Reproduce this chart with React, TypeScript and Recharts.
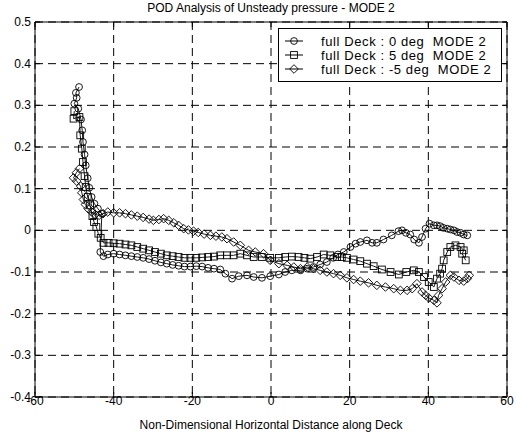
import React from 'react';
import { LineChart, Line, XAxis, YAxis, CartesianGrid, Legend } from 'recharts';

// [x, pressure mode value]
const DECK_0: [number, number][] = [
  [-48.8, 0.344], [-49.6, 0.33], [-49.4, 0.318], [-50.0, 0.304], [-49.0, 0.292], [-48.3, 0.266],
  [-48.0, 0.24], [-47.8, 0.212], [-47.4, 0.182], [-47.1, 0.156], [-46.6, 0.125], [-46.2, 0.102],
  [-45.6, 0.08], [-44.9, 0.064], [-44.0, 0.052], [-43.0, 0.04], [-43.4, -0.052], [-42.6, -0.062],
  [-41.5, -0.058], [-40.0, -0.056], [-38.5, -0.058], [-37.0, -0.06], [-35.5, -0.062], [-34.0, -0.064],
  [-32.5, -0.066], [-31.0, -0.069], [-29.5, -0.073], [-28.0, -0.077], [-26.5, -0.08], [-25.0, -0.083],
  [-23.5, -0.085], [-22.0, -0.087], [-20.5, -0.087], [-19.0, -0.086], [-17.5, -0.087], [-16.0, -0.09],
  [-14.5, -0.092], [-12.9, -0.094], [-11.6, -0.104], [-9.9, -0.116], [-8.2, -0.11], [-6.1, -0.108],
  [-4.4, -0.112], [-2.3, -0.114], [-0.2, -0.11], [2.0, -0.106], [3.6, -0.1], [5.3, -0.096],
  [7.5, -0.096], [9.2, -0.092], [10.8, -0.088], [12.5, -0.082], [14.2, -0.076], [15.8, -0.066],
  [17.0, -0.058], [18.5, -0.052], [20.2, -0.04], [21.5, -0.032], [22.7, -0.028], [24.4, -0.024],
  [25.7, -0.03], [26.9, -0.03], [28.6, -0.022], [30.7, -0.012], [32.4, -0.002], [33.3, 0.0],
  [34.3, -0.006], [35.4, -0.01], [36.4, -0.022], [37.6, -0.03], [38.4, -0.016], [39.3, 0.004],
  [40.3, 0.016], [41.4, 0.012], [42.2, 0.012], [43.0, 0.01], [43.8, 0.006], [44.8, 0.004],
  [45.6, 0.002], [46.5, 0.0], [47.3, -0.004], [48.2, -0.006], [49.0, -0.01], [49.9, -0.012],
];

const DECK_5: [number, number][] = [
  [-50.0, 0.286], [-50.2, 0.268], [-48.7, 0.272], [-48.5, 0.228], [-48.1, 0.196], [-47.8, 0.164],
  [-47.4, 0.13], [-47.1, 0.104], [-46.6, 0.08], [-46.0, 0.06], [-45.4, 0.034], [-45.0, 0.02],
  [-44.4, 0.008], [-43.9, -0.008], [-43.3, -0.018], [-42.6, -0.03], [-41.3, -0.03], [-40.0, -0.031],
  [-38.5, -0.032], [-37.0, -0.034], [-35.5, -0.036], [-34.0, -0.04], [-32.5, -0.044], [-31.0, -0.048],
  [-29.5, -0.052], [-28.0, -0.056], [-26.5, -0.06], [-25.0, -0.062], [-23.5, -0.064], [-22.0, -0.066],
  [-20.5, -0.066], [-19.0, -0.066], [-17.5, -0.065], [-16.0, -0.064], [-14.5, -0.063], [-12.9, -0.06],
  [-11.2, -0.06], [-9.5, -0.06], [-7.8, -0.056], [-6.1, -0.06], [-4.4, -0.064], [-2.3, -0.064],
  [-0.2, -0.066], [2.0, -0.066], [3.6, -0.064], [5.3, -0.063], [7.0, -0.064], [8.5, -0.066],
  [10.0, -0.068], [11.7, -0.064], [13.4, -0.058], [15.1, -0.06], [16.8, -0.064], [18.0, -0.064],
  [19.3, -0.066], [21.0, -0.07], [22.7, -0.074], [24.4, -0.08], [26.1, -0.086], [28.2, -0.094],
  [30.4, -0.1], [32.5, -0.106], [34.4, -0.1], [36.3, -0.096], [37.6, -0.1], [38.9, -0.112],
  [40.1, -0.124], [41.4, -0.136], [42.2, -0.116], [43.0, -0.104], [43.5, -0.092], [43.9, -0.072],
  [44.8, -0.052], [45.6, -0.04], [46.9, -0.036], [48.2, -0.04], [49.0, -0.048], [48.6, -0.056],
  [49.5, -0.072],
];

const DECK_M5: [number, number][] = [
  [-48.7, 0.148], [-49.5, 0.138], [-50.2, 0.126], [-49.4, 0.118], [-48.4, 0.106], [-48.1, 0.09],
  [-47.7, 0.074], [-47.2, 0.062], [-46.5, 0.052], [-45.6, 0.044], [-44.7, 0.038], [-43.7, 0.036],
  [-42.7, 0.04], [-41.5, 0.044], [-40.0, 0.042], [-38.5, 0.042], [-37.0, 0.04], [-35.5, 0.037],
  [-34.0, 0.034], [-32.5, 0.031], [-31.0, 0.027], [-29.9, 0.024], [-28.5, 0.026], [-27.3, 0.028],
  [-26.0, 0.024], [-24.7, 0.018], [-23.5, 0.012], [-22.2, 0.004], [-21.0, 0.001], [-19.7, -0.002],
  [-18.5, -0.005], [-17.0, -0.009], [-15.4, -0.012], [-14.0, -0.014], [-12.5, -0.016], [-11.2, -0.02],
  [-9.5, -0.028], [-7.8, -0.036], [-5.7, -0.048], [-4.0, -0.052], [-1.9, -0.056], [-0.2, -0.072],
  [2.0, -0.08], [4.1, -0.084], [5.8, -0.088], [7.5, -0.092], [9.2, -0.088], [10.8, -0.092],
  [12.5, -0.096], [14.2, -0.1], [15.9, -0.104], [17.6, -0.108], [19.3, -0.114], [21.0, -0.118],
  [22.7, -0.122], [24.8, -0.126], [26.9, -0.132], [29.1, -0.136], [31.2, -0.14], [32.9, -0.144],
  [34.6, -0.144], [35.9, -0.14], [37.1, -0.128], [38.4, -0.148], [39.3, -0.156], [40.1, -0.162],
  [41.4, -0.168], [42.2, -0.174], [42.6, -0.156], [43.5, -0.14], [44.4, -0.124], [45.6, -0.108],
  [46.5, -0.112], [47.8, -0.12], [49.0, -0.122], [49.9, -0.116], [50.4, -0.108],
];

const X_TICKS = [-60, -40, -20, 0, 20, 40, 60];
const Y_TICKS = [-0.4, -0.3, -0.2, -0.1, 0, 0.1, 0.2, 0.3, 0.4, 0.5];
const SERIES_NAMES = ['full Deck : 0 deg  MODE 2', 'full Deck : 5 deg  MODE 2', 'full Deck : -5 deg  MODE 2'];

const FONT = '"Liberation Sans", Arial, sans-serif';

const toPoints = (arr: [number, number][]) => arr.map(([x, y]) => ({ x, y }));

const drawMarker = (shape: string, cx: number, cy: number, key?: any) => {
  if (shape === 'circle') {
    return <circle key={key} cx={cx} cy={cy} r={3.4} fill="none" stroke="#000" strokeWidth={0.9} />;
  }
  if (shape === 'square') {
    return <rect key={key} x={cx - 3.4} y={cy - 3.4} width={6.8} height={6.8} fill="none" stroke="#000" strokeWidth={0.9} />;
  }
  return (
    <polygon
      key={key}
      points={`${cx},${cy - 4.3} ${cx + 4.3},${cy} ${cx},${cy + 4.3} ${cx - 4.3},${cy}`}
      fill="none"
      stroke="#000"
      strokeWidth={0.9}
    />
  );
};

const dotFor = (shape: string) => (props: any) => {
  const { cx, cy, index } = props;
  if (cx == null || cy == null) return <g key={index} />;
  return drawMarker(shape, cx, cy, index);
};

const fmtY = (v: number) => String(Math.round(v * 10) / 10);

const BottomTick = (props: any) => {
  const { x, y, payload } = props;
  return (
    <g>
      <line x1={x} y1={y} x2={x} y2={y - 5} stroke="#000" />
      <text x={x} y={y + 8} textAnchor="middle" fontSize={12} fontFamily={FONT} fill="#000">
        {payload.value}
      </text>
    </g>
  );
};

const TopTick = (props: any) => {
  const { x, y } = props;
  return <line x1={x} y1={y} x2={x} y2={y + 5} stroke="#000" />;
};

const LeftTick = (props: any) => {
  const { x, y, payload } = props;
  return (
    <g>
      <line x1={x} y1={y} x2={x + 5} y2={y} stroke="#000" />
      <text x={x - 4} y={y + 4} textAnchor="end" fontSize={12} fontFamily={FONT} fill="#000">
        {fmtY(payload.value)}
      </text>
    </g>
  );
};

const RightTick = (props: any) => {
  const { x, y } = props;
  return <line x1={x} y1={y} x2={x - 5} y2={y} stroke="#000" />;
};

const SHAPES = ['circle', 'square', 'diamond'];

const LegendBox = () => (
  <div
    style={{
      width: 224,
      height: 54,
      border: '1px solid #000',
      background: '#fff',
      boxSizing: 'border-box',
      fontFamily: FONT,
      fontSize: 13,
      letterSpacing: 0.6,
      paddingTop: 5,
    }}
  >
    {SERIES_NAMES.map((name, i) => (
      <div key={name} style={{ display: 'flex', alignItems: 'center', height: 14.2, whiteSpace: 'pre' }}>
        <svg width={36} height={12} style={{ marginLeft: 6, flex: 'none' }}>
          <line x1={0} y1={6} x2={18} y2={6} stroke="#000" />
          {drawMarker(SHAPES[i], 9, 6)}
        </svg>
        <span>{name}</span>
      </div>
    ))}
  </div>
);

export default function App() {
  return (
    <div style={{ position: 'absolute', left: 0, top: 0, width: 516, height: 436, background: '#fff' }}>
      <div
        style={{
          position: 'absolute',
          left: 35,
          width: 472,
          top: 1,
          textAlign: 'center',
          fontFamily: FONT,
          fontSize: 12,
        }}
      >
        POD Analysis of Unsteady pressure - MODE 2
      </div>
      <LineChart width={516} height={436} margin={{ top: 0, right: 0, bottom: 0, left: 0 }}>
        <CartesianGrid
          xAxisId="b"
          yAxisId="l"
          stroke="#000"
          strokeDasharray="8 5"
          horizontalValues={Y_TICKS}
          verticalValues={X_TICKS}
        />
        <XAxis
          xAxisId="b"
          type="number"
          dataKey="x"
          domain={[-60, 60]}
          ticks={X_TICKS}
          allowDataOverflow
          height={39}
          tickSize={0}
          tickMargin={0}
          tick={<BottomTick />}
          axisLine={{ stroke: '#000' }}
          label={{
            value: 'Non-Dimensional Horizontal Distance along Deck',
            position: 'insideBottom',
            offset: 7,
            fontSize: 12,
            fontFamily: FONT,
            fill: '#000',
          }}
        />
        <XAxis
          xAxisId="t"
          orientation="top"
          type="number"
          dataKey="x"
          domain={[-60, 60]}
          ticks={X_TICKS}
          allowDataOverflow
          height={22}
          tickSize={0}
          tickMargin={0}
          tick={<TopTick />}
          axisLine={{ stroke: '#000' }}
        />
        <YAxis
          yAxisId="l"
          type="number"
          domain={[-0.4, 0.5]}
          ticks={Y_TICKS}
          allowDataOverflow
          width={35}
          tickSize={0}
          tickMargin={0}
          tick={<LeftTick />}
          axisLine={{ stroke: '#000' }}
        />
        <YAxis
          yAxisId="r"
          orientation="right"
          type="number"
          domain={[-0.4, 0.5]}
          ticks={Y_TICKS}
          allowDataOverflow
          width={9}
          tickSize={0}
          tickMargin={0}
          tick={<RightTick />}
          axisLine={{ stroke: '#000' }}
        />
        <Legend
          layout="vertical"
          align="center"
          verticalAlign="middle"
          content={<LegendBox />}
          wrapperStyle={{ left: 278, top: 28, width: 224 }}
        />
        <Line
          xAxisId="b"
          yAxisId="l"
          data={toPoints(DECK_0)}
          dataKey="y"
          name={SERIES_NAMES[0]}
          stroke="#000"
          strokeWidth={0.9}
          dot={dotFor('circle')}
          isAnimationActive={false}
        />
        <Line
          xAxisId="b"
          yAxisId="l"
          data={toPoints(DECK_5)}
          dataKey="y"
          name={SERIES_NAMES[1]}
          stroke="#000"
          strokeWidth={0.9}
          dot={dotFor('square')}
          isAnimationActive={false}
        />
        <Line
          xAxisId="b"
          yAxisId="l"
          data={toPoints(DECK_M5)}
          dataKey="y"
          name={SERIES_NAMES[2]}
          stroke="#000"
          strokeWidth={0.9}
          dot={dotFor('diamond')}
          isAnimationActive={false}
        />
      </LineChart>
    </div>
  );
}
